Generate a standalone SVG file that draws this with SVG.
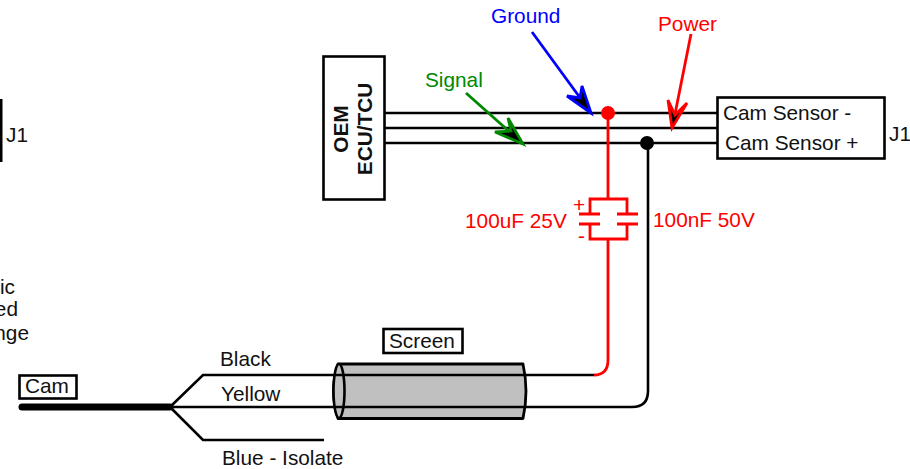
<svg xmlns="http://www.w3.org/2000/svg" width="910" height="469" viewBox="0 0 910 469">
<style>
text{font-family:"Liberation Sans",Arial,sans-serif;font-size:20.800px;fill:#111}
.w{fill:none;stroke:#000;stroke-width:2.600}
.b{fill:#fff;stroke:#000;stroke-width:2.600}
.r{fill:none;stroke:#f00;stroke-width:2.800}
.red{fill:#f00}
</style>
<rect width="910" height="469" fill="#fff"/>
<g id="shield"><path d="M338 364H523Q529 391 523 418.500H338Q329 391 338 364Z" fill="#c0c0c0" stroke="#000" stroke-width="2.800" stroke-linejoin="round"/><ellipse cx="339" cy="391" rx="5.500" ry="27" fill="#c0c0c0" stroke="#000" stroke-width="2.600"/></g>
<g id="connectors">
<path class="w" d="M385 113H717M385 128H717M385 143H717"/>
<path class="w" d="M170 407L203 375H594M170 407H632Q648 407 648 391V143M170 407L203 440H324"/>
<path d="M22 407H170" fill="none" stroke="#000" stroke-width="7" stroke-linecap="round"/>
<path class="r" d="M608 113V199M590 213V199H627V213M579 214H600M617 214H638M579 224H600M617 224H638M590 224V239H627V224M608 239V360"/>
<path class="r" d="M608 360Q608 375 594 375"/>
<path fill="none" stroke="#00f" stroke-width="2.800" d="M532 32L589 110"/>
<path d="M591 113L567 96L580 98L582 86Z" fill="#000" stroke="#00f" stroke-width="2.800"/>
<path fill="none" stroke="#f00" stroke-width="2.800" d="M691 34L673 124"/>
<path d="M672 128L668 100L675 115L687 103Z" fill="#000" stroke="#f00" stroke-width="2.800"/>
<path fill="none" stroke="#080" stroke-width="2.800" d="M466 93L520 141"/>
<path d="M523 144L495 132L511 131L508 118Z" fill="#000" stroke="#080" stroke-width="2.800"/>
<circle class="red" cx="608" cy="113" r="7"/>
<circle cx="647" cy="143" r="7"/>
</g>
<g id="left-j1"><path d="M1 99V162" fill="none" stroke="#000" stroke-width="3"/><text x="6" y="142">J1</text></g>
<g id="left-note"><text x="15" y="294" text-anchor="end">ic</text><text x="18" y="316" text-anchor="end">ed</text><text x="29" y="340" text-anchor="end">nge</text></g>
<g id="ecu"><rect class="b" x="323.500" y="56.500" width="61" height="143"/><text transform="translate(348 129) rotate(-90)" text-anchor="middle" style="font-weight:bold">OEM</text><text transform="translate(372 129) rotate(-90)" text-anchor="middle" style="font-weight:bold">ECU/TCU</text></g>
<g id="sensor"><rect class="b" x="717.500" y="97.500" width="167" height="61"/><text x="723" y="120">Cam Sensor -</text><text x="725" y="150">Cam Sensor +</text><text x="889" y="141">J1</text></g>
<g id="cam"><rect class="b" x="19.500" y="375.500" width="57" height="23"/><text x="25" y="393">Cam</text></g>
<g id="screen"><rect class="b" x="383.500" y="329" width="79" height="24"/><text x="389" y="348">Screen</text></g>
<g id="labels">
<text x="220" y="366">Black</text><text x="221" y="401">Yellow</text><text x="222" y="465">Blue - Isolate</text>
<text x="491" y="23" style="fill:#00f">Ground</text><text x="658" y="31" style="fill:#f00">Power</text><text x="425" y="87" style="fill:#080">Signal</text>
<text x="465" y="228" style="fill:#f00">100uF 25V</text><text x="653" y="227" style="fill:#f00">100nF 50V</text>
<text x="573" y="212" style="fill:#f00">+</text><text x="578" y="243" style="fill:#f00">-</text>
</g>
</svg>
